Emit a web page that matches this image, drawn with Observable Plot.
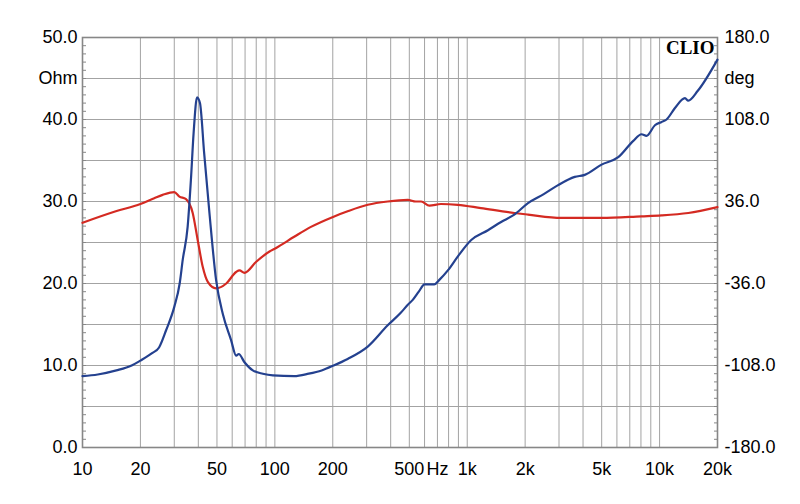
<!DOCTYPE html>
<html><head><meta charset="utf-8">
<script src="https://cdn.jsdelivr.net/npm/d3@7"></script>
<script src="https://cdn.jsdelivr.net/npm/@observablehq/plot@0.6"></script>
<style>body{margin:0;background:#fff}</style>
</head><body><div id="chart"></div>
<script>
// Impedance magnitude (blue, left axis, Ohm)
const blueFreq = [10,12,15,18,20,23,25,27.2,30,32,33.2,35.2,36.6,37.8,39.4,40.8,42.9,45.7,49.5,53.6,59.2,62.9,64.9,69.5,76.8,86.6,97.7,126,150,175,202,239,304,386,450,491,521,560,600,673,720,793,900,1049,1282,1500,1757,2070,2500,2967,3622,4083,4989,6095,7300,8054,8549,9456,10240,10870,12020,13550,14100,15800,20000];
const blueOhm  = [8.7,8.9,9.4,10.0,10.6,11.5,12.2,14.3,17.15,20.0,22.9,26.9,32.6,38.3,42.7,42.0,35.9,28.6,20.4,16.3,13.1,11.2,11.4,10.4,9.4,9.0,8.8,8.7,9.0,9.4,10.0,10.8,12.3,14.9,16.4,17.4,18.0,19.0,19.9,19.9,20.5,21.6,23.4,25.3,26.5,27.5,28.4,29.8,30.9,32.0,33.0,33.25,34.5,35.4,37.4,38.2,38.0,39.3,39.7,40.0,41.4,42.6,42.3,43.5,47.3];
// Phase (red, right axis, degrees)
const redFreq = [10,14.9,20,23.6,26.1,30,31.9,34.4,37.4,39.7,42.2,44.8,49.5,55.9,62.9,65.5,69.5,80,93.8,101,126,154,202,239,304,386,491,540,576,636,730,893,1178,1757,2070,3090,3924,4989,8054,10240,14100,20000];
const redDeg  = [17.3,27.4,33.8,38.9,41.8,44.3,40.3,38.2,25.9,2.2,-21.6,-34.6,-40.3,-36.0,-25.9,-24.5,-26.6,-16.9,-7.9,-5.0,5.0,13.7,22.7,27.4,33.1,36.0,37.4,36.0,36.0,32.4,33.8,33.1,30.2,25.9,24.5,21.6,21.6,21.6,23.0,23.8,25.9,31.0];

const xTickValues = [10,20,50,100,200,500,700,1000,2000,5000,10000,20000];
const xTickLabels = ["10","20","50","100","200","500","Hz","1k","2k","5k","10k","20k"];
const leftTickValues = [0,10,20,30,40,50];
const leftTickLabels = ["0.0","10.0","20.0","30.0","40.0","50.0"];
const rightTickLabels = ["-180.0","-108.0","-36.0","36.0","108.0","180.0"];
const leftUnit = "Ohm", rightUnit = "deg", brand = "CLIO";

const degMin = -180, degMax = 180, ohmMax = 50;
const degToOhm = d => (d - degMin) / (degMax - degMin) * ohmMax;

const blue = blueFreq.map((f, i) => ({f, v: blueOhm[i]}));
const red = redFreq.map((f, i) => ({f, v: degToOhm(redDeg[i])}));
const xTicks = xTickValues.map((v, i) => ({v, label: xTickLabels[i]}));

const gridXVals = [];
for (const dec of [10,100,1000,10000]) for (let m = 1; m <= 9; m++) { const v = dec*m; if (v <= 20000) gridXVals.push(v); }
gridXVals.push(20000);
const gridYVals = d3.range(0, 51, 5);
const minorY = d3.range(0, 51, 1);

const chart = Plot.plot({
  width: 800, height: 504,
  marginLeft: 82, marginRight: 83, marginTop: 37, marginBottom: 57,
  style: {fontFamily: "Arial, 'Liberation Sans', sans-serif", fontSize: "18px", background: "#fff", color: "#000"},
  x: {type: "log", domain: [10, 20000], axis: null},
  y: {domain: [0, 50], axis: null},
  marks: [
    Plot.gridX(gridXVals, {stroke: "#a3a3a3", strokeOpacity: 1, strokeWidth: 1}),
    Plot.gridY(gridYVals, {stroke: "#a3a3a3", strokeOpacity: 1, strokeWidth: 1}),
    Plot.axisY(minorY, {anchor: "left", tickSize: -4, tickFormat: () => "", label: null, stroke: "#888"}),
    Plot.axisY(minorY, {anchor: "right", tickSize: -4, tickFormat: () => "", label: null, stroke: "#888"}),
    Plot.frame({stroke: "#878787", strokeWidth: 1.6}),
    Plot.text(xTicks, {x: "v", text: "label", frameAnchor: "bottom", dy: 15, lineAnchor: "top", fontSize: 18, fill: "#000"}),
    Plot.axisY(leftTickValues, {anchor: "left", tickSize: 0, tickPadding: 5, tickFormat: d => leftTickLabels[leftTickValues.indexOf(d)], label: null}),
    Plot.axisY([45], {anchor: "left", tickSize: 0, tickPadding: 5, tickFormat: () => leftUnit, label: null}),
    Plot.axisY(leftTickValues, {anchor: "right", tickSize: 0, tickPadding: 7, tickFormat: d => rightTickLabels[leftTickValues.indexOf(d)], label: null}),
    Plot.axisY([45], {anchor: "right", tickSize: 0, tickPadding: 7, tickFormat: () => rightUnit, label: null}),
    Plot.line(red, {x: "f", y: "v", stroke: "#d42a22", strokeWidth: 2.2, curve: "monotone-x"}),
    Plot.line(blue, {x: "f", y: "v", stroke: "#24418f", strokeWidth: 2.2, curve: "monotone-x"}),
    Plot.text([brand], {frameAnchor: "top-right", text: d => d, dx: -3, dy: 3, textAnchor: "end", lineAnchor: "top", fontFamily: "'Liberation Serif', 'Times New Roman', serif", fontWeight: "bold", fontSize: 19, fill: "#000"})
  ]
});
document.getElementById("chart").appendChild(chart);
</script>
</body></html>
